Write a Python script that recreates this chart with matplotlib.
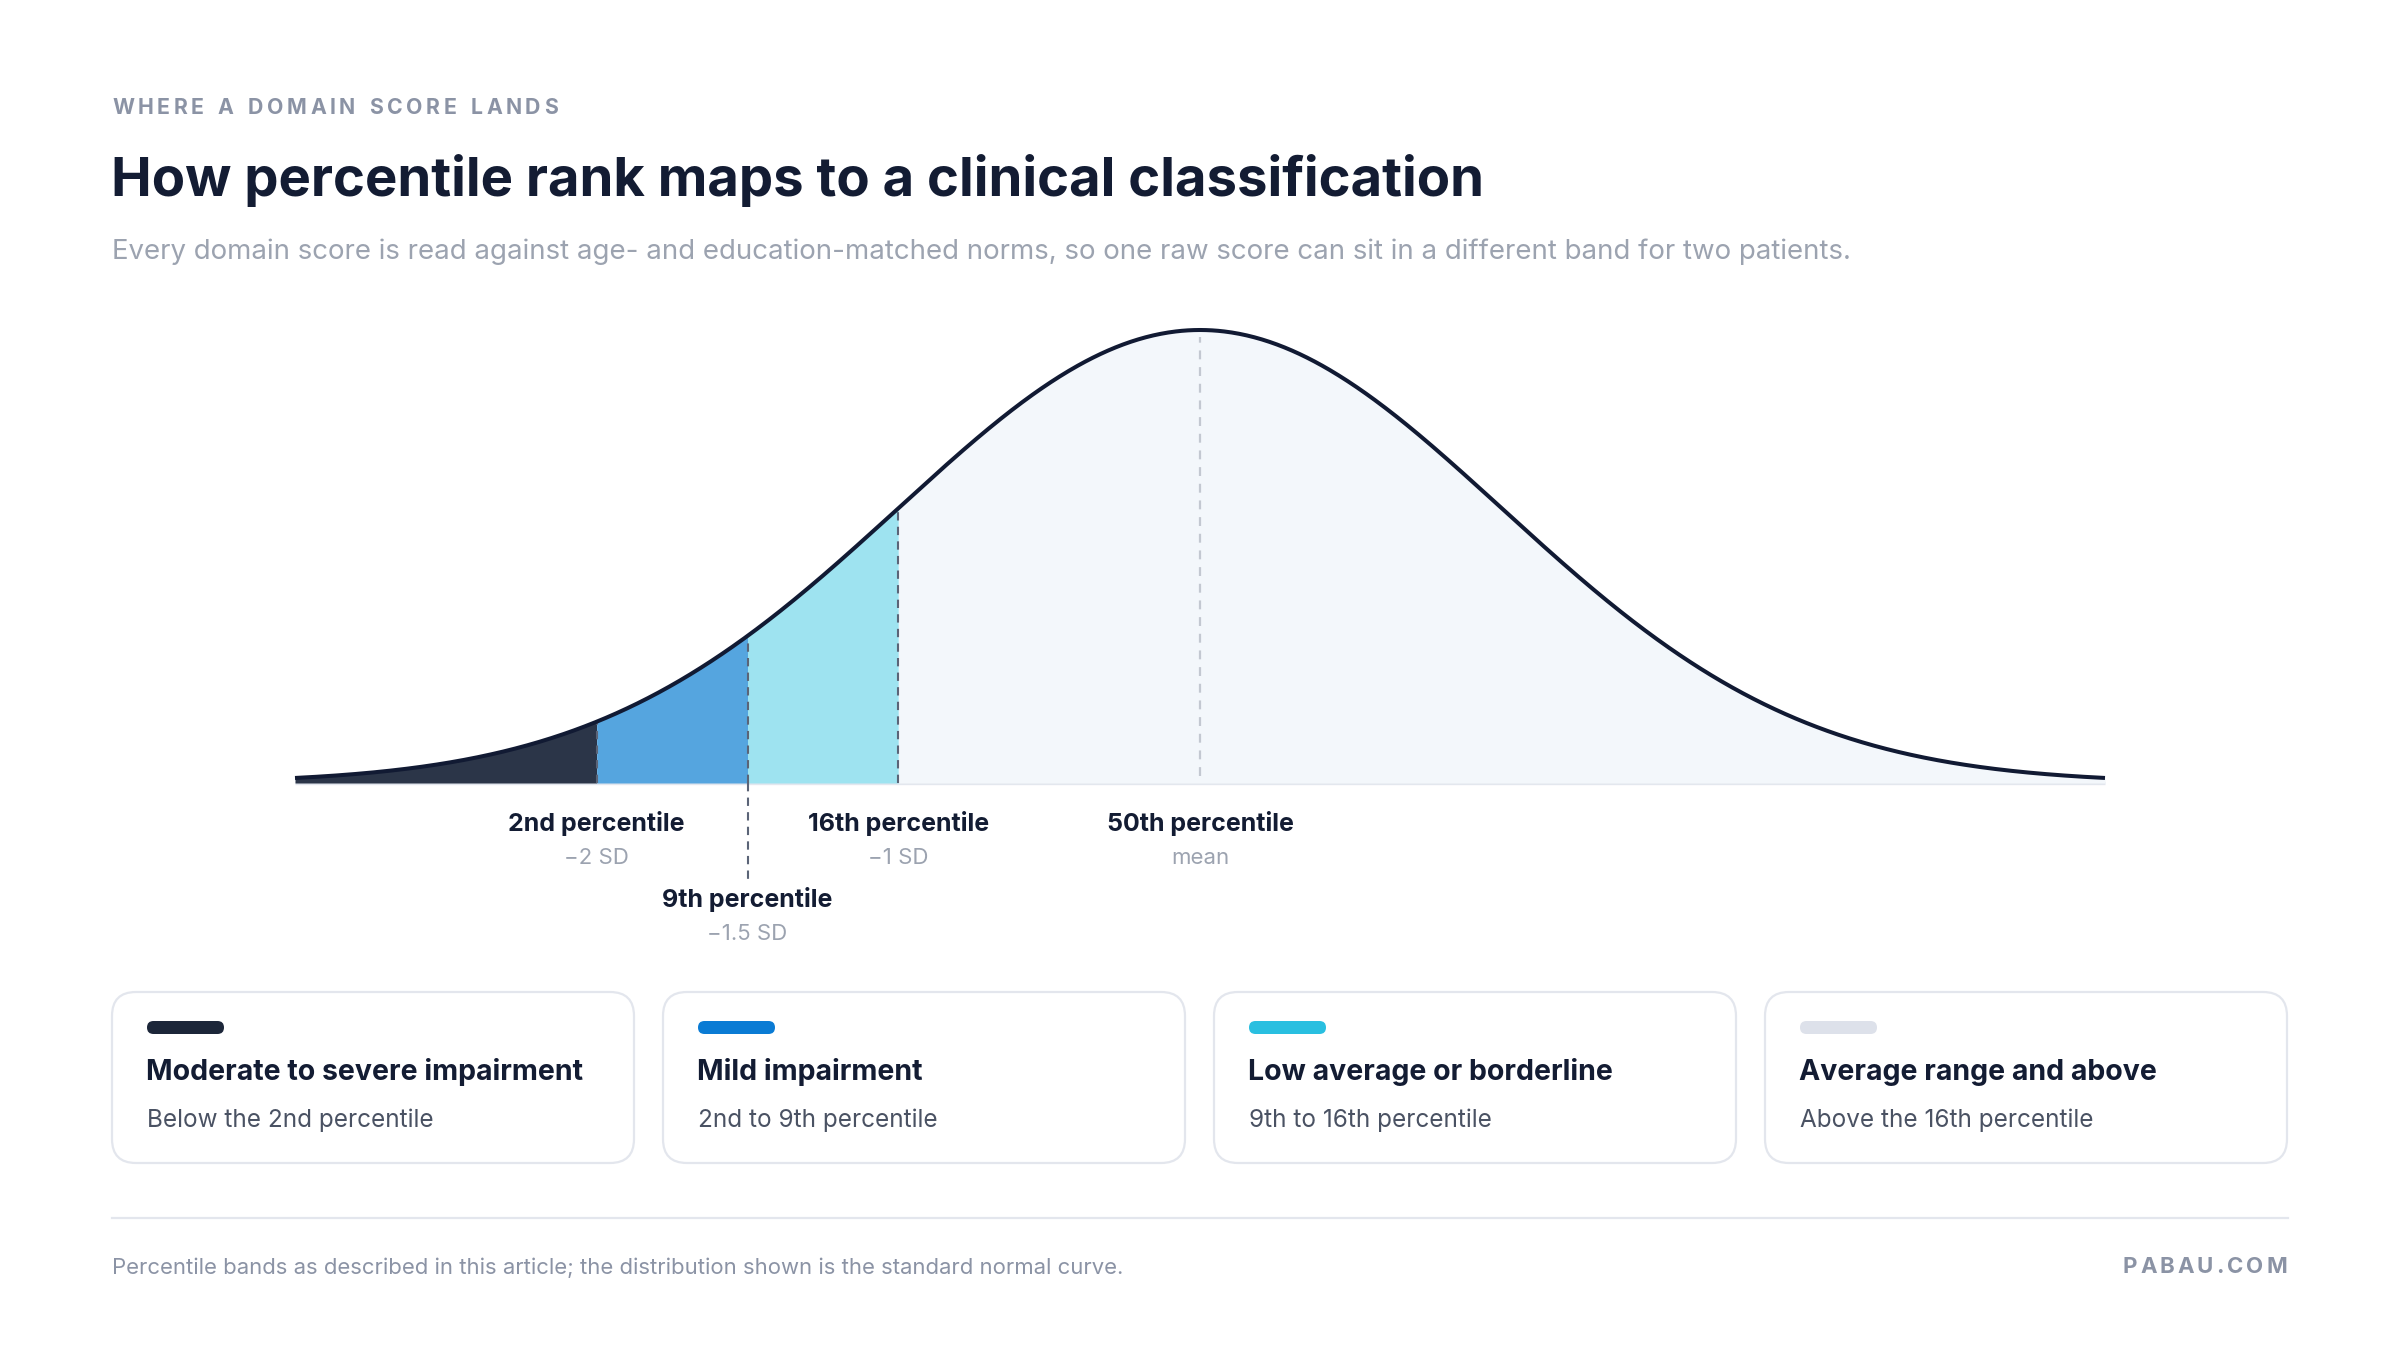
import numpy as np
import matplotlib
matplotlib.use('Agg')
import matplotlib.pyplot as plt
from matplotlib.patches import FancyBboxPatch
import matplotlib.transforms as mtransforms

plt.rcParams['font.family'] = ['Inter', 'DejaVu Sans']

# data
cutoffs_sd = [-2.0, -1.5, -1.0, 0.0]
cutoff_names = ['2nd percentile', '9th percentile', '16th percentile', '50th percentile']
cutoff_subs = ['\u22122 SD', '\u22121.5 SD', '\u22121 SD', 'mean']
band_edges = [-3.0, -2.0, -1.5, -1.0, 3.0]
band_fills = ['#2b3548', '#55a5df', '#9ee3f0', '#f3f7fb']
card_titles = ['Moderate to severe impairment', 'Mild impairment',
               'Low average or borderline', 'Average range and above']
card_subs = ['Below the 2nd percentile', '2nd to 9th percentile',
             '9th to 16th percentile', 'Above the 16th percentile']
card_swatches = ['#1c2639', '#0a7bd4', '#29bfe0', '#dde1ea']

W, H = 2400, 1364
DARK = '#131c33'
GREY = '#8b93a5'

fig = plt.figure(figsize=(W / 100, H / 100), dpi=100)
fig.patch.set_facecolor('white')

# page axes in pixel coordinates
page = fig.add_axes([0, 0, 1, 1])
page.set_xlim(0, W)
page.set_ylim(H, 0)
page.axis('off')


def spaced(ax, x, y, s, track, ha='left', **kw):
    ''' draws text with letter spacing'''
    r = fig.canvas.get_renderer()
    widths = []
    for ch in s:
        t = ax.text(0, 0, ch if ch != ' ' else 'n', **kw)
        bb = t.get_window_extent(r)
        widths.append(bb.width * (0.55 if ch == ' ' else 1))
        t.remove()
    total = sum(widths) + track * (len(s) - 1)
    cx = x if ha == 'left' else x - total
    for ch, w in zip(s, widths):
        ax.text(cx, y, ch, ha='left', va='center', **kw)
        cx += w + track


# header
spaced(page, 112, 108, 'WHERE A DOMAIN SCORE LANDS', 3.5,
       fontsize=15.3, fontweight='bold', color=GREY)
page.text(111, 196, 'How percentile rank maps to a clinical classification',
          fontsize=39.2, fontweight='bold', color=DARK, va='baseline')
page.text(112, 252, 'Every domain score is read against age- and education-matched norms, '
          'so one raw score can sit in a different band for two patients.',
          fontsize=19.9, color='#9ca3b0', va='center')

# curve axes: x in SD units, y in density
x0, x1 = 295, 2105
yb, yt = 783, 330
ax = fig.add_axes([x0 / W, 1 - yb / H, (x1 - x0) / W, (yb - yt) / H])
ax.axis('off')
z = np.linspace(-3, 3, 1201)
pdf = np.exp(-z ** 2 / 2) / np.sqrt(2 * np.pi)
ax.set_xlim(-3, 3)
ax.set_ylim(0, pdf.max())

ax.plot([-3, 3], [0, 0], color='#e3e7ee', lw=2.4, zorder=1,
        solid_capstyle='butt', clip_on=False)
for i in range(len(band_fills)):
    m = (z >= band_edges[i]) & (z <= band_edges[i + 1])
    ax.fill_between(z[m], 0, pdf[m], color=band_fills[i], lw=0, zorder=2)

ax.plot(z, pdf, color='#111a33', lw=2.9, zorder=5, clip_on=False,
        solid_capstyle='butt')

# dashed cutoff lines
pix = mtransforms.blended_transform_factory(ax.transData, page.transData)
for c in cutoffs_sd:
    top = np.exp(-c ** 2 / 2) / np.sqrt(2 * np.pi)
    if c == 0.0:
        ax.plot([c, c], [0.006, top * 0.985], color='#c3c8d1', lw=1.6,
                dashes=(4, 3.5), zorder=4)
    else:
        ax.plot([c, c], [0, top], color='#5b6477', lw=1.5, dashes=(4, 3),
                zorder=4)
# -1.5 SD line extends below the axis
ax.plot([-1.5, -1.5], [yb, 885], color='#5b6477', lw=1.5, dashes=(4, 3),
        transform=pix, zorder=4, clip_on=False)

# cutoff labels
for c, nm, sb in zip(cutoffs_sd, cutoff_names, cutoff_subs):
    yl = 900 if c == -1.5 else 824
    ax.text(c, yl, nm, transform=pix, ha='center', va='center',
            fontsize=18, fontweight='bold', color=DARK)
    ax.text(c, yl + 34, sb, transform=pix, ha='center', va='center',
            fontsize=16, color='#9ca3b0')

# cards
cw, gap = 522, 29
for i in range(4):
    cx = 112 + i * (cw + gap)
    box = FancyBboxPatch((cx, 992), cw, 171,
                         boxstyle='round,pad=0,rounding_size=24',
                         fc='white', ec='#e3e6ed', lw=1.6)
    page.add_patch(box)
    pill = FancyBboxPatch((cx + 35, 1021), 77, 13,
                          boxstyle='round,pad=0,rounding_size=6.5',
                          fc=card_swatches[i], ec='none')
    page.add_patch(pill)
    page.text(cx + 34, 1072, card_titles[i], fontsize=20.5, fontweight='bold',
              color=DARK, va='center')
    page.text(cx + 35, 1120, card_subs[i], fontsize=17.5, color='#4a5263',
              va='center')

# footer
page.plot([112, 2288], [1218, 1218], color='#e3e6ed', lw=1.6)
page.text(112, 1268, 'Percentile bands as described in this article; '
          'the distribution shown is the standard normal curve.',
          fontsize=15.9, color=GREY, va='center')
spaced(page, 2287, 1267, 'PABAU.COM', 3.0, ha='right',
       fontsize=16, fontweight='bold', color=GREY)

fig.savefig('out.png', dpi=100, facecolor='white')
